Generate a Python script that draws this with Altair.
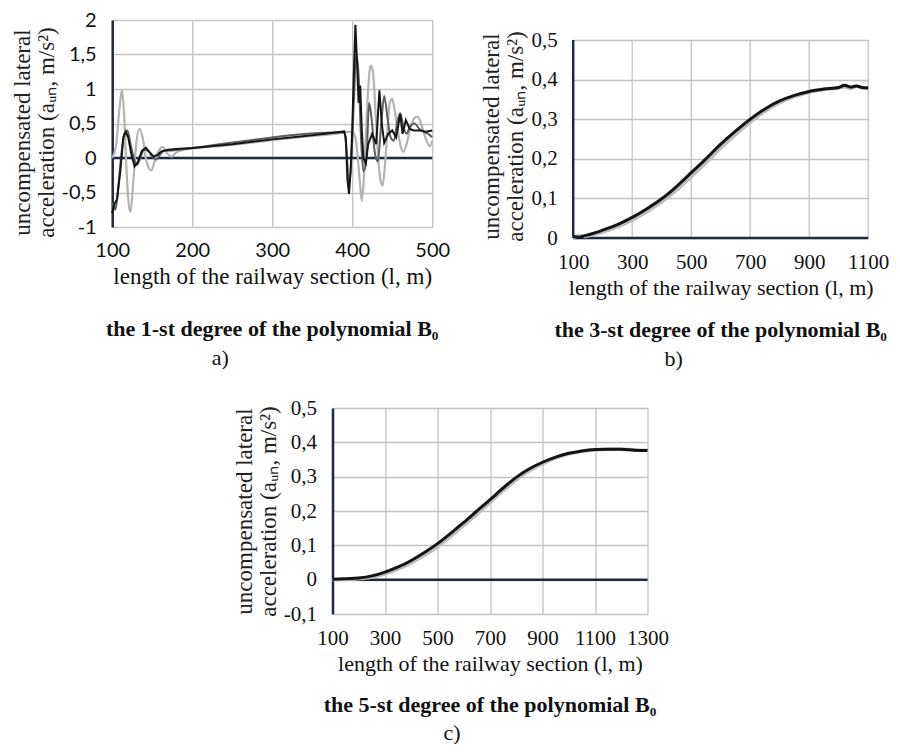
import altair as alt
import pandas as pd

# ---------------- data ----------------
a_x_ticks = [100, 200, 300, 400, 500]
a_y_ticks = [-1, -0.5, 0, 0.5, 1, 1.5, 2]
b_x_ticks = [100, 300, 500, 700, 900, 1100]
b_y_ticks = [0, 0.1, 0.2, 0.3, 0.4, 0.5]
c_x_ticks = [100, 300, 500, 700, 900, 1100, 1300]
c_y_ticks = [-0.1, 0, 0.1, 0.2, 0.3, 0.4, 0.5]

# panel a) - 1st degree polynomial
a_black_x = [100, 103, 106, 110, 114, 117, 120, 124, 128, 132, 137, 142, 147, 152, 157, 162, 170, 180,
             200, 250, 300, 350, 390, 392, 394, 396, 398, 400, 402, 404, 406, 408, 410, 412, 414, 417,
             420, 425, 430, 434, 437, 440, 445, 450, 455, 460, 463, 467, 472, 477, 485, 492, 500]
a_black_y = [-0.80, -0.66, -0.60, -0.20, 0.30, 0.38, 0.30, 0.05, -0.12, -0.06, 0.10, 0.15, 0.08, 0.02,
             0.05, 0.10, 0.12, 0.13, 0.145, 0.20, 0.27, 0.33, 0.385, 0.30, -0.30, -0.52, -0.20, 0.40,
             1.20, 1.93, 1.40, 0.80, 1.05, 0.40, 0.00, -0.08, 0.20, 0.35, 0.20, 0.98, 0.50, 0.22, 0.35,
             0.40, 0.30, 0.64, 0.35, 0.55, 0.42, 0.40, 0.40, 0.38, 0.40]
a_mid_x = [100, 104, 107, 111, 115, 119, 123, 127, 131, 135, 140, 145, 150, 155, 160, 165, 175, 190,
           390, 393, 396, 399, 402, 405, 408, 411, 414, 418, 421, 424, 428, 432, 436, 440, 444, 448,
           452, 456, 460, 464, 468, 472, 478, 484, 490, 495, 500]
a_mid_y = [-0.65, -0.75, -0.50, 0.00, 0.35, 0.40, 0.20, 0.00, -0.10, 0.00, 0.12, 0.10, 0.02, -0.02,
           0.05, 0.10, 0.11, 0.13, 0.375, 0.10, -0.40, 0.00, 0.80, 1.50, 1.20, 0.30, -0.20, 0.00,
           0.80, 0.60, 0.10, -0.05, 0.45, 0.90, 0.60, 0.30, 0.25, 0.50, 0.65, 0.45, 0.35, 0.45,
           0.50, 0.42, 0.38, 0.35, 0.30]
a_light_x = [100, 105, 109, 112, 115, 118, 121, 123, 126, 130, 134, 138, 142, 146, 149, 153, 158, 163,
             168, 174, 180, 190, 200, 250, 300, 350, 385, 390, 395, 400, 404, 407, 410, 412, 414, 417,
             420, 423, 426, 429, 432, 435, 438, 441, 444, 447, 450, 453, 457, 461, 464, 468, 473, 478,
             482, 486, 490, 494, 497, 500]
a_light_y = [0.00, 0.20, 0.70, 0.98, 0.60, -0.20, -0.70, -0.78, -0.40, 0.20, 0.42, 0.30, 0.00, -0.15,
             -0.18, -0.05, 0.10, 0.16, 0.08, 0.02, 0.08, 0.12, 0.135, 0.19, 0.26, 0.32, 0.36, 0.37,
             0.38, 0.38, 0.30, 0.00, -0.40, -0.62, -0.40, 0.30, 1.00, 1.34, 1.25, 0.70, 0.10, -0.30,
             -0.40, -0.10, 0.40, 0.80, 0.86, 0.70, 0.40, 0.15, 0.09, 0.20, 0.45, 0.58, 0.60, 0.50,
             0.35, 0.22, 0.17, 0.25]

# panel b) - 3rd degree polynomial
b_x = [100, 120, 140, 160, 200, 250, 300, 350, 400, 450, 500, 550, 600, 650, 700, 750, 800, 850,
       900, 950, 1000, 1020, 1040, 1060, 1080, 1100]
b_black = [0.004, 0.002, 0.006, 0.010, 0.020, 0.034, 0.052, 0.074, 0.099, 0.130, 0.165, 0.200,
           0.237, 0.270, 0.300, 0.326, 0.346, 0.360, 0.370, 0.376, 0.380, 0.386, 0.381, 0.384,
           0.380, 0.379]
b_gray = [0.000, 0.006, 0.004, 0.007, 0.015, 0.028, 0.045, 0.066, 0.091, 0.121, 0.155, 0.190,
          0.227, 0.261, 0.292, 0.320, 0.342, 0.357, 0.368, 0.375, 0.379, 0.382, 0.378, 0.383,
          0.379, 0.378]

# panel c) - 5th degree polynomial
c_x = [100, 150, 200, 250, 300, 350, 400, 450, 500, 550, 600, 650, 700, 750, 800, 850, 900, 950,
       1000, 1050, 1100, 1150, 1200, 1250, 1300]
c_black = [0.001, 0.003, 0.005, 0.011, 0.022, 0.037, 0.056, 0.079, 0.105, 0.135, 0.167, 0.200,
           0.233, 0.267, 0.298, 0.323, 0.342, 0.357, 0.368, 0.375, 0.379, 0.380, 0.380, 0.377, 0.376]
c_gray = [0.000, 0.001, 0.003, 0.008, 0.017, 0.031, 0.049, 0.071, 0.096, 0.126, 0.158, 0.191,
          0.225, 0.259, 0.291, 0.317, 0.338, 0.354, 0.366, 0.374, 0.378, 0.380, 0.380, 0.378, 0.376]

captions = ["the 1-st degree of the polynomial B\u2080",
            "the 3-st degree of the polynomial B\u2080",
            "the 5-st degree of the polynomial B\u2080"]
panel_labels = ["a)", "b)", "c)"]
y_title = ["uncompensated lateral", "acceleration (a\u1d64\u2099, m/s\u00b2)"]
x_title = "length of the railway section (l, m)"

# ---------------- style ----------------
NAVY = "#1d2a3c"
GRID = "#c2c2c2"
SERIF = "Liberation Serif"


def make_panel(series, xdom, ydom, xticks, yticks, W, H, tick_font, tick_size,
               ytitle_size, xtitle_size, caption, label, cap_dy, lab_dx, lab_dy,
               top_pad=0, title_y=None):
    """top_pad: extra empty pixels above the top gridline (used to lower the panel)."""
    HH = H + top_pad
    y_top = ydom[1] + (ydom[1] - ydom[0]) * top_pad / H
    x_axis = alt.Axis(values=xticks, format="d", grid=(top_pad == 0), gridColor=GRID,
                      gridWidth=1.3, domain=False, ticks=False, labelFlush=False,
                      labelFont=tick_font, labelFontSize=tick_size, labelColor="#111",
                      labelPadding=13, title=x_title, titleFont=SERIF,
                      titleFontSize=xtitle_size, titleFontWeight="normal", titleColor="#111",
                      titlePadding=5)
    y_kw = dict(values=yticks, labelExpr="replace(toString(datum.value), '.', ',')",
                grid=True, gridColor=GRID, gridWidth=1.3, domain=(top_pad == 0),
                domainColor=NAVY, domainWidth=2.5, ticks=False, labelFont=tick_font,
                labelFontSize=tick_size, labelColor="#111", labelPadding=16, labelFlush=False,
                title=y_title, titleFont=SERIF, titleFontSize=ytitle_size,
                titleFontWeight="normal", titleColor="#222", titlePadding=3,
                titleLineHeight=ytitle_size + 1)
    if title_y is not None:
        y_kw["titleY"] = title_y
    y_axis = alt.Axis(**y_kw)
    xs = alt.Scale(domain=xdom, nice=False, zero=False)
    ys = alt.Scale(domain=[ydom[0], y_top], nice=False, zero=False)

    layers = []
    if top_pad:
        # vertical gridlines and left axis line limited to the data range
        layers.append(
            alt.Chart(pd.DataFrame({"x": xticks})).mark_rule(color=GRID, strokeWidth=1.3).encode(
                x=alt.X("x:Q", scale=xs, axis=x_axis),
                y=alt.datum(ydom[0]), y2=alt.datum(ydom[1])))
        layers.append(
            alt.Chart(pd.DataFrame({"x": [xdom[0]]})).mark_rule(color=NAVY, strokeWidth=2.5).encode(
                x=alt.X("x:Q", scale=xs, axis=x_axis),
                y=alt.datum(ydom[0]), y2=alt.datum(ydom[1])))
    layers.append(
        alt.Chart(pd.DataFrame({"y": [0]})).mark_rule(color=NAVY, strokeWidth=2.5).encode(
            y=alt.Y("y:Q", scale=ys, axis=y_axis)))
    for xs_list, ys_list, color, width, interp in series:
        df = pd.DataFrame({"x": xs_list, "y": ys_list})
        layers.append(
            alt.Chart(df).mark_line(color=color, strokeWidth=width, interpolate=interp).encode(
                x=alt.X("x:Q", scale=xs, axis=x_axis),
                y=alt.Y("y:Q", scale=ys, axis=y_axis)))
    layers.append(
        alt.Chart(pd.DataFrame({"t": [caption]})).mark_text(
            font=SERIF, fontSize=22, fontWeight="bold", color="#111",
            align="center", baseline="middle").encode(
            x=alt.value(W / 2), y=alt.value(HH + cap_dy), text="t:N"))
    layers.append(
        alt.Chart(pd.DataFrame({"t": [label]})).mark_text(
            font=SERIF, fontSize=22, color="#111", align="center", baseline="middle").encode(
            x=alt.value(W / 2 + lab_dx), y=alt.value(HH + lab_dy), text="t:N"))
    return alt.layer(*layers).properties(width=W, height=HH)


pa = make_panel(
    [(a_light_x, a_light_y, "#b3b3b3", 2.2, "monotone"),
     (a_mid_x, a_mid_y, "#5e5e5e", 2.0, "monotone"),
     (a_black_x, a_black_y, "#151515", 2.0, "linear")],
    [100, 500], [-1, 2], a_x_ticks, a_y_ticks, 320, 207, "Lato", 20, 23, 23,
    captions[0], panel_labels[0], 102, -52, 131, title_y=112)

pb = make_panel(
    [(b_x, b_gray, "#bdbdbd", 3.5, "monotone"),
     (b_x, b_black, "#141414", 3.0, "monotone")],
    [100, 1100], [0, 0.5], b_x_ticks, b_y_ticks, 295, 198, SERIF, 21, 23, 22,
    captions[1], panel_labels[1], 92, -47, 121, top_pad=20, title_y=116)

pc = make_panel(
    [(c_x, c_gray, "#bdbdbd", 3.5, "monotone"),
     (c_x, c_black, "#141414", 3.0, "monotone")],
    [100, 1300], [-0.1, 0.5], c_x_ticks, c_y_ticks, 315, 206, SERIF, 21, 23, 22,
    captions[2], panel_labels[2], 91, -38, 119)

row1 = alt.hconcat(pa, pb, spacing=30)
chart = alt.vconcat(row1, pc, spacing=27, center=True).properties(
    padding={"left": 3, "top": 2, "right": 0, "bottom": 0},
    background="white",
).configure_view(stroke=None)

chart.save("out.html", embed_options={"renderer": "svg", "actions": False})
